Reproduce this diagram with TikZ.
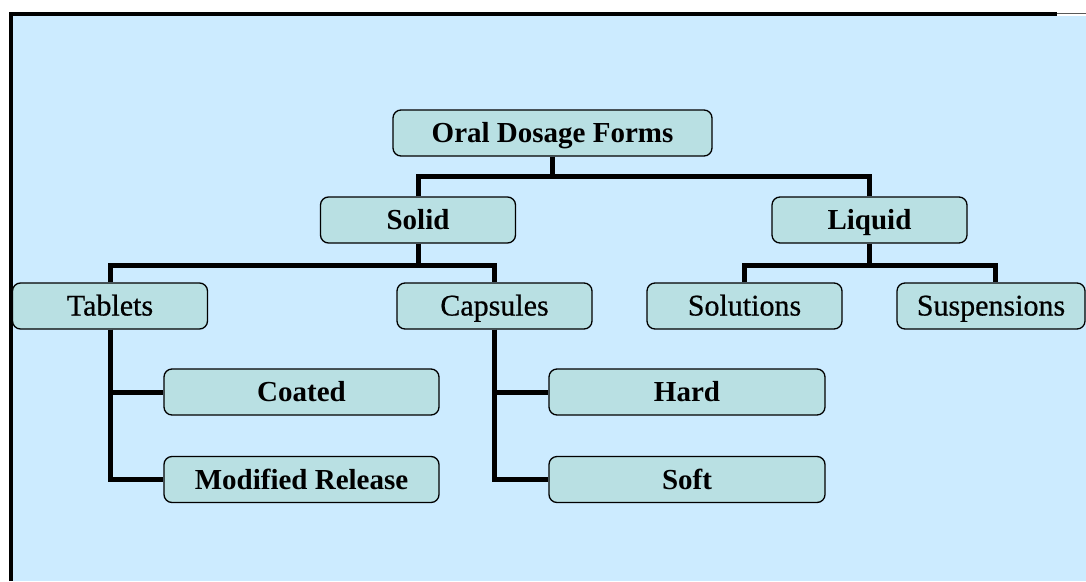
\documentclass[tikz,border=0pt]{standalone}
\usepackage{fontspec}
\setmainfont{Liberation Serif}
\newfontfamily\semib{Liberation Serif}[FakeBold=0.6]
\definecolor{bgblue}{RGB}{204,235,255}
\definecolor{boxfill}{RGB}{185,224,227}
\begin{document}
\begin{tikzpicture}[x=1pt,y=-1pt,
  box/.style={draw=black, line width=1.3pt, fill=boxfill, rounded corners=8pt,
    minimum height=46pt, inner sep=0pt, text height=24pt, text depth=5pt},
  bbox/.style={box, font=\fontsize{29}{34}\selectfont\bfseries},
  rbox/.style={box, font=\fontsize{30}{34}\selectfont\semib},
  conn/.style={line width=5pt, line join=miter}]
\useasboundingbox (0,0) rectangle (1086,581);
\fill[bgblue] (13,16) rectangle (1086,581);
\draw[line width=4pt] (11,581) -- (11,14) -- (1057,14);
\draw[line width=1pt, gray!70!black] (1057,13.5) -- (1086,13.5);

\node[bbox, minimum width=319pt] (oral) at (552.5,133) {Oral Dosage Forms};
\node[bbox, minimum width=195pt] (solid) at (418,220) {Solid};
\node[bbox, minimum width=195pt] (liquid) at (869.5,220) {Liquid};
\node[rbox, minimum width=195pt] (tablets) at (110,306) {Tablets};
\node[rbox, minimum width=195pt] (capsules) at (494.5,306) {Capsules};
\node[rbox, minimum width=195pt] (solutions) at (744.5,306) {Solutions};
\node[rbox, minimum width=188pt] (suspensions) at (991,306) {Suspensions};
\node[bbox, minimum width=275pt] (coated) at (301.5,392) {Coated};
\node[bbox, minimum width=275pt] (modrel) at (301.5,479.5) {Modified Release};
\node[bbox, minimum width=276pt] (hard) at (687,392) {Hard};
\node[bbox, minimum width=276pt] (soft) at (687,479.5) {Soft};

\coordinate (j1) at (552.5,176);
\coordinate (j2) at (418,265);
\coordinate (j3) at (869.5,265);

\draw[conn] (oral.south) -- (j1);
\draw[conn] (solid.north) |- (j1) -| (liquid.north);
\draw[conn] (solid.south) -- (j2);
\draw[conn] (tablets.north) |- (j2) -| (capsules.north);
\draw[conn] (liquid.south) -- (j3);
\draw[conn] (solutions.north) |- (j3) -| ([xshift=4pt]suspensions.north);
\draw[conn] (tablets.south) |- (coated.west);
\draw[conn] (tablets.south) |- (modrel.west);
\draw[conn] (capsules.south) |- (hard.west);
\draw[conn] (capsules.south) |- (soft.west);
\end{tikzpicture}
\end{document}
